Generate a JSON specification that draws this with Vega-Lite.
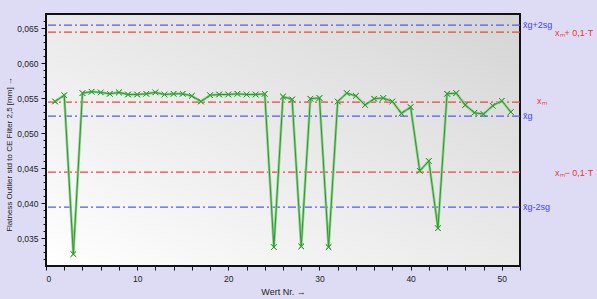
{
  "$schema": "https://vega.github.io/schema/vega-lite/v6.json",
  "width": 474,
  "height": 252,
  "autosize": {"type": "none"},
  "padding": {"left": 46, "top": 14, "right": 77, "bottom": 33},
  "background": "#dedcf4",
  "config": {
    "font": "Liberation Sans",
    "view": {"stroke": "#111111", "strokeWidth": 2,
      "fill": {"gradient": "linear", "x1": 0, "y1": 1, "x2": 1, "y2": 0,
        "stops": [{"offset": 0, "color": "#ffffff"}, {"offset": 0.35, "color": "#f0f0f0"}, {"offset": 0.7, "color": "#e2e2e2"}, {"offset": 1, "color": "#d4d4d4"}]}},
    "axis": {"grid": false, "domain": false, "labelOverlap": false, "labelColor": "#222222", "labelFontSize": 8.5, "tickColor": "#111111", "titleColor": "#222222", "titleFontWeight": "normal"}
  },
  "datasets": {
    "series": [
      {"nr": 1, "v": 0.0545}, {"nr": 2, "v": 0.0554}, {"nr": 3, "v": 0.0327}, {"nr": 4, "v": 0.0557},
      {"nr": 5, "v": 0.0559}, {"nr": 6, "v": 0.0558}, {"nr": 7, "v": 0.0556}, {"nr": 8, "v": 0.0558},
      {"nr": 9, "v": 0.0555}, {"nr": 10, "v": 0.0555}, {"nr": 11, "v": 0.0556}, {"nr": 12, "v": 0.0558},
      {"nr": 13, "v": 0.0555}, {"nr": 14, "v": 0.0556}, {"nr": 15, "v": 0.0556}, {"nr": 16, "v": 0.0553},
      {"nr": 17, "v": 0.0545}, {"nr": 18, "v": 0.0554}, {"nr": 19, "v": 0.0555}, {"nr": 20, "v": 0.0555},
      {"nr": 21, "v": 0.0556}, {"nr": 22, "v": 0.0555}, {"nr": 23, "v": 0.0555}, {"nr": 24, "v": 0.0556},
      {"nr": 25, "v": 0.0337}, {"nr": 26, "v": 0.0552}, {"nr": 27, "v": 0.0548}, {"nr": 28, "v": 0.0338},
      {"nr": 29, "v": 0.0549}, {"nr": 30, "v": 0.0550}, {"nr": 31, "v": 0.0337}, {"nr": 32, "v": 0.0545},
      {"nr": 33, "v": 0.0557}, {"nr": 34, "v": 0.0553}, {"nr": 35, "v": 0.0540}, {"nr": 36, "v": 0.0549},
      {"nr": 37, "v": 0.0550}, {"nr": 38, "v": 0.0545}, {"nr": 39, "v": 0.0528}, {"nr": 40, "v": 0.0537},
      {"nr": 41, "v": 0.0446}, {"nr": 42, "v": 0.0460}, {"nr": 43, "v": 0.0364}, {"nr": 44, "v": 0.0556},
      {"nr": 45, "v": 0.0557}, {"nr": 46, "v": 0.0540}, {"nr": 47, "v": 0.0529}, {"nr": 48, "v": 0.0527},
      {"nr": 49, "v": 0.0539}, {"nr": 50, "v": 0.0546}, {"nr": 51, "v": 0.0530}
    ],
    "refs": [
      {"name": "g+2s", "kind": "g", "value": 0.0654, "label": "x̄g+2sg"},
      {"name": "m+T", "kind": "m", "value": 0.0644, "label": "xₘ+ 0,1·T"},
      {"name": "m", "kind": "m", "value": 0.0544, "label": "xₘ"},
      {"name": "g", "kind": "g", "value": 0.0524, "label": "x̄g"},
      {"name": "m-T", "kind": "m", "value": 0.0444, "label": "xₘ− 0,1·T"},
      {"name": "g-2s", "kind": "g", "value": 0.0394, "label": "x̄g-2sg"}
    ]
  },
  "layer": [
    {
      "data": {"name": "series"},
      "mark": {"type": "point", "shape": "M-1,-1L1,1M-1,1L1,-1", "size": 30, "filled": false, "color": "#2f9a2f", "strokeWidth": 1, "opacity": 1},
      "encoding": {
        "x": {"field": "nr", "type": "quantitative",
          "scale": {"domain": [0, 52], "nice": false, "zero": false},
          "axis": {"title": "Wert Nr. →", "titleFontSize": 9, "titlePadding": 5, "tickCount": 200, "values": [0,2,4,6,8,10,12,14,16,18,20,22,24,26,28,30,32,34,36,38,40,42,44,46,48,50,52],
            "labelExpr": "datum.value % 10 == 0 ? format(datum.value, 'd') : ''", "tickSize": 4, "labelPadding": 4}},
        "y": {"field": "v", "type": "quantitative",
          "scale": {"domain": [0.031, 0.067], "nice": false, "zero": false},
          "axis": {"title": "Flatness Outlier std to CE Filter 2,5 [mm] →", "titleFontSize": 8, "titleX": -33, "titleY": 140, "titleAnchor": "middle", "tickCount": 200,
            "values": [0.032,0.033,0.034,0.035,0.036,0.037,0.038,0.039,0.040,0.041,0.042,0.043,0.044,0.045,0.046,0.047,0.048,0.049,0.050,0.051,0.052,0.053,0.054,0.055,0.056,0.057,0.058,0.059,0.060,0.061,0.062,0.063,0.064,0.065,0.066],
            "labelExpr": "round(datum.value*1000) % 5 == 0 ? replace(format(datum.value, '.3f'), '.', ',') : ''",
            "tickSize": {"condition": {"test": "round(datum.value*1000) % 5 == 0", "value": 5}, "value": 3},
            "labelPadding": 3}}
      }
    },
    {
      "data": {"name": "refs"},
      "mark": {"type": "rule", "strokeWidth": 1.2, "strokeDash": [8, 3, 2, 3]},
      "encoding": {
        "y": {"field": "value", "type": "quantitative"},
        "color": {"field": "kind", "type": "nominal", "scale": {"domain": ["g", "m"], "range": ["#5555ff", "#ee4444"]}, "legend": null}
      }
    },
    {
      "data": {"name": "refs"},
      "transform": [{"filter": "datum.kind == 'g'"}],
      "mark": {"type": "text", "align": "left", "baseline": "middle", "dx": 3, "fontSize": 9, "color": "#4444ee"},
      "encoding": {
        "x": {"datum": 52, "type": "quantitative"},
        "y": {"field": "value", "type": "quantitative"},
        "text": {"field": "label"}
      }
    },
    {
      "data": {"name": "refs"},
      "transform": [{"filter": "datum.kind == 'm' && datum.name != 'm'"}],
      "mark": {"type": "text", "align": "left", "baseline": "middle", "dx": 35, "dy": 1, "fontSize": 9, "color": "#ee3333"},
      "encoding": {
        "x": {"datum": 52, "type": "quantitative"},
        "y": {"field": "value", "type": "quantitative"},
        "text": {"field": "label"}
      }
    },
    {
      "data": {"name": "refs"},
      "transform": [{"filter": "datum.name == 'm'"}],
      "mark": {"type": "text", "align": "left", "baseline": "middle", "dx": 17, "dy": -1, "fontSize": 9, "color": "#ee3333"},
      "encoding": {
        "x": {"datum": 52, "type": "quantitative"},
        "y": {"field": "value", "type": "quantitative"},
        "text": {"field": "label"}
      }
    },
    {
      "data": {"name": "series"},
      "mark": {"type": "line", "color": "#8fcf8f", "strokeWidth": 2.6, "clip": true},
      "encoding": {
        "x": {"field": "nr", "type": "quantitative"},
        "y": {"field": "v", "type": "quantitative"}
      }
    },
    {
      "data": {"name": "series"},
      "mark": {"type": "line", "color": "#2f9a2f", "strokeWidth": 1, "clip": true},
      "encoding": {
        "x": {"field": "nr", "type": "quantitative"},
        "y": {"field": "v", "type": "quantitative"}
      }
    },
    {
      "data": {"name": "series"},
      "mark": {"type": "point", "shape": "M-1,-1L1,1M-1,1L1,-1", "size": 30, "filled": false, "color": "#2f9a2f", "strokeWidth": 1, "opacity": 1},
      "encoding": {
        "x": {"field": "nr", "type": "quantitative"},
        "y": {"field": "v", "type": "quantitative"}
      }
    }
  ]
}
